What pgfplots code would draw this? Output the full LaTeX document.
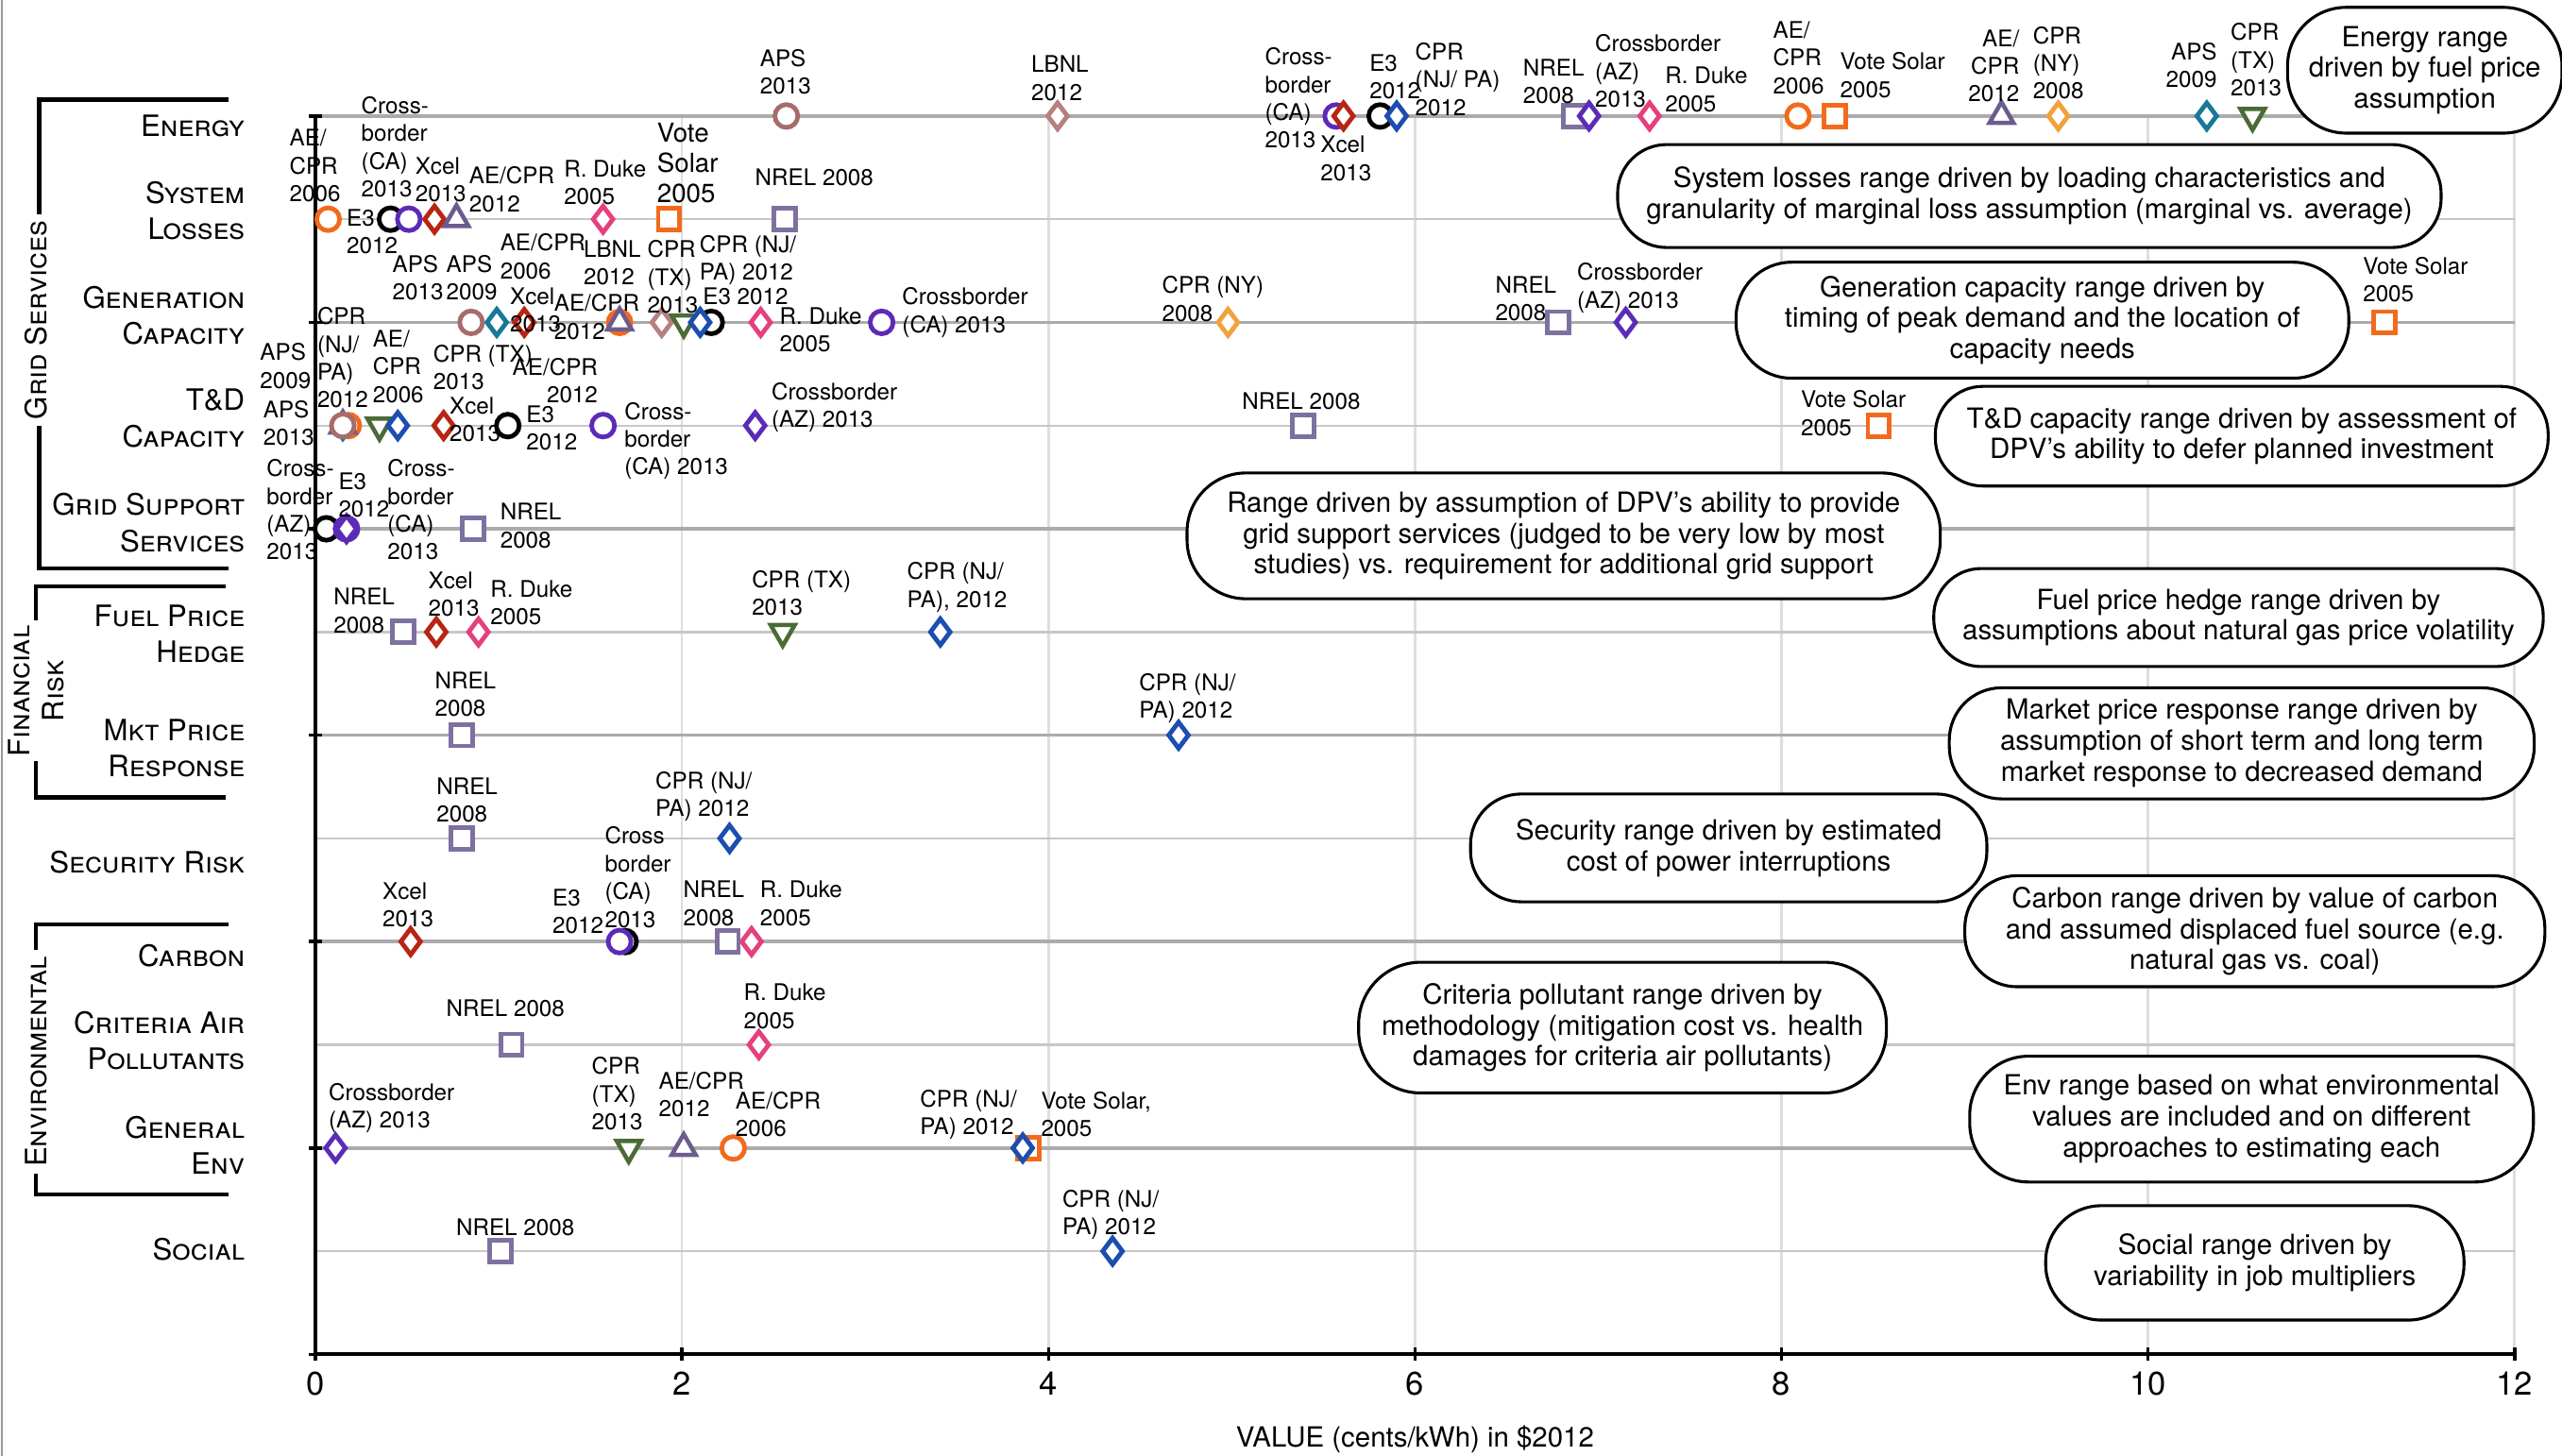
\documentclass[border=0pt]{standalone}
\usepackage{pgfplots}
\pgfplotsset{compat=1.18}
\usepackage{fontspec}
\setmainfont{TeX Gyre Heros}
\definecolor{cOr}{HTML}{F26A1B}
\definecolor{cPu}{HTML}{5B2BB8}
\definecolor{cXc}{HTML}{B82514}
\definecolor{cTr}{HTML}{6C5C8E}
\definecolor{cDu}{HTML}{E5407E}
\definecolor{cNr}{HTML}{7E71A0}
\definecolor{cAp}{HTML}{A66C6C}
\definecolor{cLb}{HTML}{B58080}
\definecolor{cTe}{HTML}{17799A}
\definecolor{cGr}{HTML}{4B6B36}
\definecolor{cBl}{HTML}{1C4EB0}
\definecolor{cNy}{HTML}{F0A23C}
\newcommand\lb[3]{\node[lab] at (#1,{#2-5}) {#3};}
\newcommand\rb[3]{\node[lab,anchor=north east,align=right] at (#1,{#2-5}) {#3};}
\newcommand\cat[2]{\node[anchor=east,align=right,inner sep=0pt,font=\fontsize{18}{22}\selectfont] at (150,#1) {#2};}
\begin{document}
\begin{tikzpicture}
\pgfplotsset{
  circ/.style={only marks, mark=*, mark size=7pt, mark options={draw=#1, fill=white, line width=2.8pt}},
  sq/.style={only marks, mark=square*, mark size=6.6pt, mark options={draw=#1, fill=white, line width=2.8pt}},
  dia/.style={only marks, mark=diamond*, mark size=8pt, mark options={draw=#1, fill=white, line width=2.8pt}},
  tri/.style={only marks, mark=triangle*, mark size=8.5pt, mark options={draw=#1, fill=white, line width=2.6pt}},
  trid/.style={only marks, mark=triangle*, mark size=8.5pt, mark options={draw=#1, fill=white, line width=2.6pt, rotate=180}},
}
\begin{axis}[
  scale only axis, width=1346pt, height=758pt,
  xmin=0, xmax=12, ymin=0, ymax=12, y dir=reverse,
  axis x line*=bottom, axis y line*=left,
  axis line style={line width=2.2pt, -},
  clip=false,
  xtick={0,2,...,12},
  ytick={0,2,...,12}, yticklabels={},
  minor ytick={1,3,...,11},
  xmajorgrids, ymajorgrids, yminorgrids,
  x grid style={draw=black!13, line width=1.6pt},
  major grid style={draw=black!33, line width=2pt},
  minor grid style={draw=black!22, line width=1.4pt},
  major tick length=8pt, minor tick length=0pt, tick align=center,
  tick style={black, line width=2pt},
  xticklabel style={font=\fontsize{20}{22}\selectfont, yshift=-3pt},
  /pgf/number format/assume math mode=true,
]
\addplot[dia=cTe] coordinates {(10.32,0) (0.99,2) (0.15,3)};
\addplot[circ=cOr] coordinates {(8.09,0) (0.07,1) (1.66,2) (0.18,3) (2.28,10)};
\addplot[circ=black] coordinates {(5.81,0) (0.41,1) (2.16,2) (1.05,3) (0.06,4) (1.69,8)};
\addplot[circ=cPu] coordinates {(5.57,0) (0.51,1) (3.09,2) (1.57,3) (0.17,4) (1.66,8)};
\addplot[dia=cXc] coordinates {(5.61,0) (0.65,1) (1.14,2) (0.70,3) (0.66,5) (0.52,8)};
\addplot[tri=cTr] coordinates {(9.20,0) (0.77,1) (1.66,2) (0.15,3) (2.01,10)};
\addplot[circ=cAp] coordinates {(2.57,0) (0.85,2) (0.15,3)};
\addplot[dia=cLb] coordinates {(4.05,0) (1.89,2)};
\addplot[dia=cDu] coordinates {(7.28,0) (1.57,1) (2.43,2) (0.89,5) (2.38,8) (2.42,9)};
\addplot[sq=cOr] coordinates {(8.29,0) (1.93,1) (11.29,2) (8.53,3) (3.89,10)};
\addplot[sq=cNr] coordinates {(6.87,0) (2.56,1) (6.78,2) (5.39,3) (0.86,4) (0.48,5) (0.80,6) (0.80,7) (2.25,8) (1.07,9) (1.01,11)};
\addplot[trid=cGr] coordinates {(10.57,0) (2.01,2) (0.35,3) (2.55,5) (1.71,10)};
\addplot[dia=cBl] coordinates {(5.90,0) (2.10,2) (0.45,3) (3.41,5) (4.71,6) (2.26,7) (3.86,10) (4.35,11)};
\addplot[dia=cNy] coordinates {(9.51,0) (4.98,2)};
\addplot[dia=cPu] coordinates {(6.95,0) (7.15,2) (2.40,3) (0.17,4) (0.11,10)};
\coordinate (D) at (axis cs:-1.72065,-1.12401);
\end{axis}
\begin{scope}[shift={(D)}, x=1pt, y=-1pt,
  lab/.style={font=\fontsize{14}{17}\selectfont, align=left, anchor=north west, inner sep=0pt},
  call/.style={draw, line width=1.8pt, fill=white, align=center, font=\fontsize{17}{19}\selectfont, inner sep=0pt}]
% energy
\lb{465}{35}{APS\\2013}
\lb{631}{39}{LBNL\\2012}
\lb{774}{34}{Cross-\\border\\(CA)\\2013}
\lb{808}{88}{Xcel\\2013}
\lb{838}{38}{E3\\2012}
\lb{866}{31}{CPR\\(NJ/ PA)\\2012}
\lb{932}{41}{NREL\\2008}
\lb{976}{26}{Crossborder\\(AZ)\\2013}
\lb{1019}{46}{R. Duke\\2005}
\lb{1085}{18}{AE/\\CPR\\2006}
\lb{1126}{37}{Vote Solar\\2005}
\rb{1236}{23}{AE/\\CPR\\2012}
\lb{1244}{21}{CPR\\(NY)\\2008}
\rb{1357}{31}{APS\\2009}
\lb{1365}{19}{CPR\\(TX)\\2013}
% system losses
\lb{177}{84}{AE/\\CPR\\2006}
\lb{212}{133}{E3\\2012}
\lb{221}{64}{Cross-\\border\\(CA)\\2013}
\lb{254}{101}{Xcel\\2013}
\lb{287}{107}{AE/CPR\\2012}
\lb{345}{103}{R. Duke\\2005}
\node[lab,font=\fontsize{16}{18.5}\selectfont] at (402,75) {Vote\\Solar\\2005};
\lb{462}{108}{NREL 2008}
% generation capacity
\lb{240}{161}{APS\\2013}
\lb{273}{161}{APS\\2009}
\lb{306}{148}{AE/CPR\\2006}
\lb{312}{181}{Xcel\\2013}
\lb{339}{185}{AE/CPR\\2012}
\lb{357}{152}{LBNL\\2012}
\lb{396}{152}{CPR\\(TX)\\2013}
\lb{428}{149}{CPR (NJ/\\PA) 2012}
\lb{430}{181}{E3 2012}
\lb{477}{193}{R. Duke\\2005}
\lb{552}{181}{Crossborder\\(CA) 2013}
\lb{711}{174}{CPR (NY)\\2008}
\lb{915}{174}{NREL\\2008}
\lb{965}{166}{Crossborder\\(AZ) 2013}
\lb{1446}{162}{Vote Solar\\2005}
\lb{194}{193}{CPR\\(NJ/\\PA)\\2012}
% T&D
\lb{159}{215}{APS\\2009}
\lb{161}{250}{APS\\2013}
\lb{228}{207}{AE/\\CPR\\2006}
\lb{265}{216}{CPR (TX)\\2013}
\rb{366}{224}{AE/CPR\\2012}
\lb{275}{248}{Xcel\\2013}
\lb{322}{253}{E3\\2012}
\lb{382}{251}{Cross-\\border\\(CA) 2013}
\lb{472}{239}{Crossborder\\(AZ) 2013}
\lb{760}{245}{NREL 2008}
\lb{1102}{244}{Vote Solar\\2005}
% grid support
\lb{163}{286}{Cross-\\border\\(AZ)\\2013}
\lb{207}{294}{E3\\2012}
\lb{237}{286}{Cross-\\border\\(CA)\\2013}
\lb{306}{313}{NREL\\2008}
% fuel price hedge
\lb{204}{365}{NREL\\2008}
\lb{262}{355}{Xcel\\2013}
\lb{300}{360}{R. Duke\\2005}
\lb{460}{354}{CPR (TX)\\2013}
\lb{555}{349}{CPR (NJ/\\PA), 2012}
% market price
\lb{266}{416}{NREL\\2008}
\lb{697}{417}{CPR (NJ/\\PA) 2012}
% security
\lb{267}{481}{NREL\\2008}
\lb{401}{477}{CPR (NJ/\\PA) 2012}
% carbon
\lb{234}{545}{Xcel\\2013}
\lb{338}{549}{E3\\2012}
\lb{370}{511}{Cross\\border\\(CA)\\2013}
\lb{418}{544}{NREL\\2008}
\lb{465}{544}{R. Duke\\2005}
% criteria
\lb{273}{617}{NREL 2008}
\lb{455}{607}{R. Duke\\2005}
% general env
\lb{201}{668}{Crossborder\\(AZ) 2013}
\lb{362}{652}{CPR\\(TX)\\2013}
\lb{403}{661}{AE/CPR\\2012}
\lb{450}{673}{AE/CPR\\2006}
\lb{563}{672}{CPR (NJ/\\PA) 2012}
\lb{637}{673}{Vote Solar,\\2005}
% social
\lb{279}{751}{NREL 2008}
\lb{650}{733}{CPR (NJ/\\PA) 2012}
% callouts
\node[call, rounded corners=36pt, minimum width=168pt, minimum height=77pt] at (1484,43) {Energy range\\driven by fuel price\\assumption};
\node[call, rounded corners=30pt, minimum width=504pt, minimum height=63pt] at (1242,120) {System losses range driven by loading characteristics and\\granularity of marginal loss assumption (marginal vs. average)};
\node[call, rounded corners=34pt, minimum width=375pt, minimum height=71pt] at (1250,196) {Generation capacity range driven by\\timing of peak demand and the location of\\capacity needs};
\node[call, rounded corners=29pt, minimum width=375pt, minimum height=61pt] at (1372,267) {T\&D capacity range driven by assessment of\\DPV’s ability to defer planned investment};
\node[call, rounded corners=36pt, minimum width=461pt, minimum height=77pt] at (957,328) {Range driven by assumption of DPV’s ability to provide\\grid support services (judged to be very low by most\\studies) vs. requirement for additional grid support};
\node[call, rounded corners=29pt, minimum width=373pt, minimum height=60pt] at (1370,378) {Fuel price hedge range driven by\\assumptions about natural gas price volatility};
\node[call, rounded corners=32pt, minimum width=358pt, minimum height=68pt] at (1372,455) {Market price response range driven by\\assumption of short term and long term\\market response to decreased demand};
\node[call, rounded corners=31pt, minimum width=316pt, minimum height=66pt] at (1058,519) {Security range driven by estimated\\cost of power interruptions};
\node[call, rounded corners=32pt, minimum width=355pt, minimum height=68pt] at (1380,570) {Carbon range driven by value of carbon\\and assumed displaced fuel source (e.g.\\natural gas vs. coal)};
\node[call, rounded corners=38pt, minimum width=323pt, minimum height=80pt] at (993,629) {Criteria pollutant range driven by\\methodology (mitigation cost vs. health\\damages for criteria air pollutants)};
\node[call, rounded corners=36pt, minimum width=345pt, minimum height=77pt] at (1378,685) {Env range based on what environmental\\values are included and on different\\approaches to estimating each};
\node[call, rounded corners=34pt, minimum width=256pt, minimum height=70pt] at (1380,773) {Social range driven by\\variability in job multipliers};
% category labels
\cat{77}{\textsc{Energy}}
\cat{129}{\textsc{System}\\\textsc{Losses}}
\cat{193}{\textsc{Generation}\\\textsc{Capacity}}
\cat{256}{\textsc{T\&D}\\\textsc{Capacity}}
\cat{320}{\textsc{Grid Support}\\\textsc{Services}}
\cat{388}{\textsc{Fuel Price}\\\textsc{Hedge}}
\cat{458}{\textsc{Mkt Price}\\\textsc{Response}}
\cat{528}{\textsc{Security Risk}}
\cat{585}{\textsc{Carbon}}
\cat{637}{\textsc{Criteria Air}\\\textsc{Pollutants}}
\cat{701}{\textsc{General}\\\textsc{Env}}
\cat{765}{\textsc{Social}}
% group brackets
\draw[line width=2.5pt] (140,61) -- (24,61) -- (24,348) -- (140,348);
\draw[line width=2.5pt] (138,359) -- (22,359) -- (22,488) -- (138,488);
\draw[line width=2.5pt] (140,566) -- (22,566) -- (22,731) -- (140,731);
\node[rotate=90, fill=white, inner sep=4pt, font=\fontsize{18}{21}\selectfont] at (22,196) {\textsc{Grid Services}};
\node[rotate=90, fill=white, inner sep=3pt, align=center, font=\fontsize{18}{21}\selectfont] at (22,423) {\textsc{Financial}\\\textsc{Risk}};
\node[rotate=90, fill=white, inner sep=4pt, font=\fontsize{18}{21}\selectfont] at (22,650) {\textsc{Environmental}};
\node[font=\fontsize{17}{20}\selectfont] at (866,881) {VALUE (cents/kWh) in \$2012};
\draw[black!40, line width=1pt] (1,0) -- (1,891);
\pgfresetboundingbox
\path (0,0) rectangle (1568,891);
\end{scope}
\end{tikzpicture}
\end{document}
